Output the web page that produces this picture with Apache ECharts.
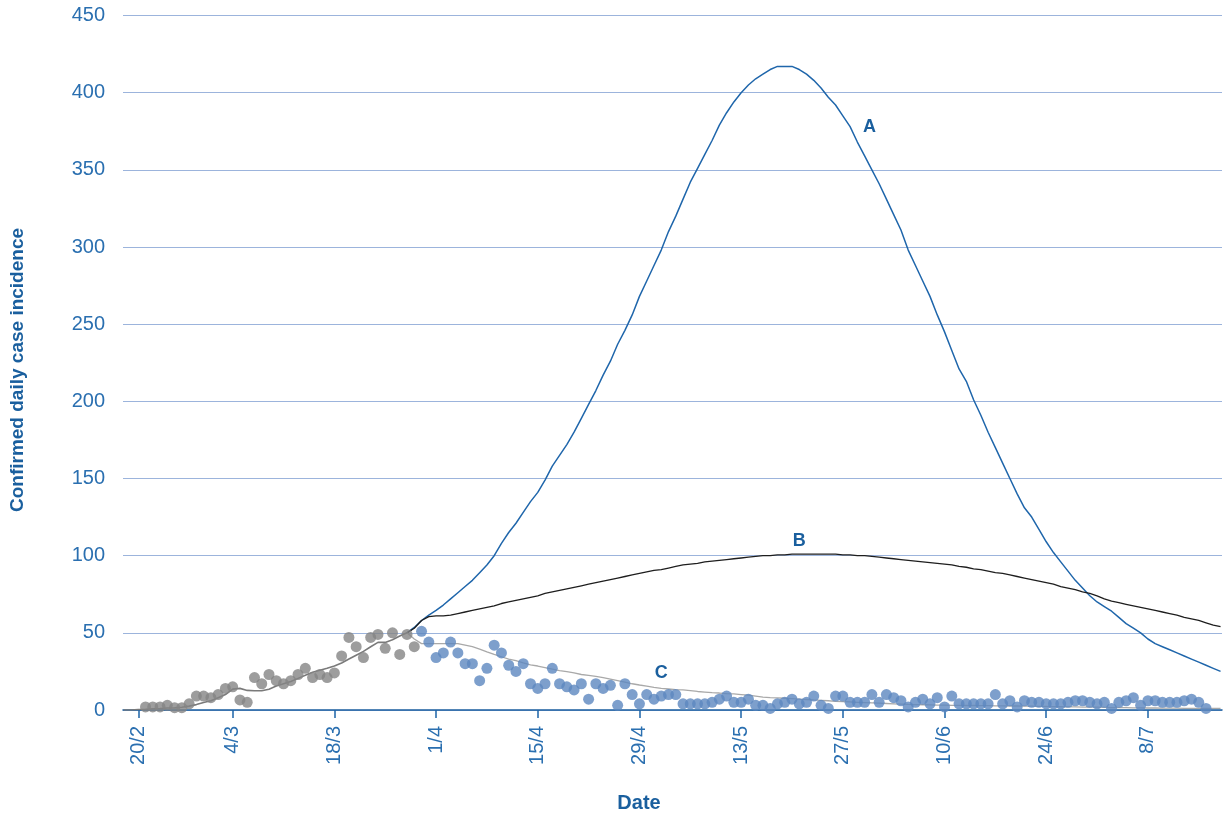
<!DOCTYPE html>
<html>
<head>
<meta charset="utf-8">
<title>Confirmed daily case incidence</title>
<script src="https://cdn.jsdelivr.net/npm/echarts@6/dist/echarts.min.js"></script>
<style>
  html, body { margin: 0; padding: 0; background: #ffffff; }
  #chart { width: 1226px; height: 818px; }
</style>
</head>
<body>
<div id="chart"></div>
<script>
// Days are counted from 20/2 (day 0).
const tickDays   = [0, 13, 27, 41, 55, 69, 83, 97, 111, 125, 139];
const tickLabels = ['20/2', '4/3', '18/3', '1/4', '15/4', '29/4', '13/5', '27/5', '10/6', '24/6', '8/7'];

// Fitted curve up to the branching point
const historyStart = -2;
const history = [0, 0, 0.3, 0.5, 0.8, 1, 1.3, 1.4, 1.8, 2.5, 3.5, 4.8, 6, 8, 10, 13.5, 14, 12.7, 12.5, 12.5,
  13.5, 15.5, 17, 18.5, 20.5, 22.5, 24.5, 25.8, 27, 28.5, 30.5, 33, 35.5, 38, 41, 43.8, 43.8, 45.5, 48, 50];

// Scenario projections, starting at the branching day
const scenarioStart = 37;
const scenarioA = [50, 53.5, 58, 61.5, 64.5, 68, 72, 76, 80, 84, 89, 94, 100, 108, 115, 121, 128, 135, 141, 149,
  158, 165, 172, 180, 189, 198, 207, 217, 226, 237, 246, 256, 268, 278, 288, 298, 310, 320, 331, 342,
  351, 360, 369, 379, 387, 394, 400, 405, 409, 412, 415, 417, 417, 417, 415, 412, 408, 403, 397, 392,
  385, 378, 368, 359, 350, 341, 331, 321, 311, 298, 288, 278, 268, 256, 245, 233, 221, 213, 201, 191,
  180, 170, 160, 150, 140, 131, 125, 117, 109, 102, 96, 90, 84, 79, 74, 70, 67, 64, 60, 56,
  53, 50, 46, 43, 41, 39, 37, 35, 33, 31, 29, 27, 25];
const scenarioB = [50, 53, 58, 60.5, 61, 61, 61.5, 62.5, 63.5, 64.5, 65.5, 66.5, 67.5, 69, 70, 71, 72, 73, 74, 75.5,
  76.5, 77.5, 78.5, 79.5, 80.5, 81.5, 82.5, 83.5, 84.5, 85.5, 86.5, 87.5, 88.5, 89.5, 90.5, 91, 92, 93, 94, 94.5,
  95, 96, 96.5, 97, 97.5, 98, 98.5, 99, 99.5, 100, 100, 100.5, 100.5, 101, 101, 101, 101, 101, 101, 101,
  100.5, 100.5, 100, 100, 99.5, 99, 98.5, 98, 97.5, 97, 96.5, 96, 95.5, 95, 94.5, 94, 93, 92.5, 91.5, 91,
  90, 89, 88.5, 87.5, 86.5, 85.5, 84.5, 83.5, 82.5, 81.5, 80, 79, 78, 76.5, 75.5, 74, 72, 70.5, 69.5, 68.5,
  67.5, 66.5, 65.5, 64.5, 63.5, 62.5, 61.5, 60, 59, 58, 56.5, 55, 54];
const scenarioC = [50, 46, 43, 43, 43, 43, 43, 43, 42, 41, 39.5, 37.7, 36, 34.5, 33, 32, 30.5, 29.3, 28.5, 27.5,
  26.5, 25.5, 24.8, 24, 23, 22.5, 21.8, 21, 20, 19, 18, 17, 16.2, 15.5, 14.7, 14, 13.6, 13.2, 13, 12.6,
  12, 11.6, 11.2, 11, 10.6, 10.4, 10, 9.6, 9, 8.4, 8, 7.8, 7.6, 7.4, 7, 6.8, 6.5, 6.3, 6, 5.6,
  5.4, 5.2, 5, 4.8, 4.6, 4.4, 4.2, 4, 3.8, 3.6, 3.5, 3.4, 3.3, 3.2, 3.1, 3, 3, 2.9, 2.9, 2.8,
  2.8, 2.7, 2.7, 2.6, 2.6, 2.5, 2.5, 2.4, 2.3, 2.2, 2.1, 2, 2, 1.9, 1.8, 1.8, 1.7, 1.6, 1.5, 1.5,
  1.4, 1.4, 1.3, 1.3, 1.2, 1.2, 1.2, 1.1, 1.1, 1.1, 1, 1, 1];

// Reported daily cases
const fitStart = 1;
const fitCases = [2, 2, 2, 3, 1.5, 1.5, 4, 9, 9, 8, 10, 14, 15, 6.5, 5, 21, 17, 23, 19, 17,
  19, 23, 27, 21, 23, 21, 24, 35, 47, 41, 34, 47, 49, 40, 50, 36, 49, 41];
const laterStart = 39;
const laterCases = [51, 44, 34, 37, 44, 37, 30, 30, 19, 27, 42, 37, 29, 25, 30, 17, 14, 17, 27, 17,
  15, 13, 17, 7, 17, 14, 16, 3, 17, 10, 4, 10, 7, 9, 10, 10, 4, 4, 4, 4,
  5, 7, 9, 5, 5, 7, 3, 3, 1, 4, 5, 7, 4, 5, 9, 3, 1, 9, 9, 5,
  5, 5, 10, 5, 10, 8, 6, 2, 5, 7, 4, 8, 2, 9, 4, 4, 4, 4, 4, 10,
  4, 6, 2, 6, 5, 5, 4, 4, 4, 5, 6, 6, 5, 4, 5, 1, 5, 6, 8, 3,
  6, 6, 5, 5, 5, 6, 7, 5, 1];

// Day on which each scenario name is written beside its curve
const scenarioNames = ['A', 'B', 'C'];
const nameDays = [98, 91, 72];

const yTicks = [0, 50, 100, 150, 200, 250, 300, 350, 400, 450];

function pairs(start, values) {
  return values.map((v, i) => [start + i, v]);
}

const blue = '#1c64a8';
const textBlue = '#2a6fb0';

const scenarios = [scenarioA, scenarioB, scenarioC];
const scenarioColors = ['#1f66ab', '#1e1e1e', '#a9a9a9'];
const nameLabels = [
  { position: 'right', distance: 13 },
  { position: 'top', distance: 4 },
  { position: 'top', distance: 6 }
];

const chart = echarts.init(document.getElementById('chart'), null, { renderer: 'canvas' });

const series = [
  {
    name: 'history',
    type: 'line',
    data: pairs(historyStart, history),
    showSymbol: false,
    lineStyle: { color: '#7a7a7a', width: 1.6 },
    z: 2,
    silent: true
  }
];

scenarios.forEach((vals, k) => {
  const d = nameDays[k];
  series.push({
    name: scenarioNames[k],
    type: 'line',
    data: pairs(scenarioStart, vals),
    showSymbol: false,
    lineStyle: { color: scenarioColors[k], width: k === 0 ? 1.5 : 1.3 },
    z: 2,
    silent: true,
    markPoint: {
      symbol: 'circle',
      symbolSize: 0,
      silent: true,
      label: {
        show: true,
        formatter: scenarioNames[k],
        color: '#1a5f9e',
        fontFamily: 'Liberation Sans, Arial, sans-serif',
        fontWeight: 'bold',
        fontSize: 18,
        position: nameLabels[k].position,
        distance: nameLabels[k].distance
      },
      data: [{ coord: [d, vals[d - scenarioStart]] }]
    }
  });
});

series.push({
  name: 'fit period',
  type: 'scatter',
  data: pairs(fitStart, fitCases),
  symbol: 'circle',
  symbolSize: 11,
  itemStyle: { color: '#858585' },
  z: 4,
  silent: true
});
series.push({
  name: 'after',
  type: 'scatter',
  data: pairs(laterStart, laterCases),
  symbol: 'circle',
  symbolSize: 11,
  itemStyle: { color: '#5d87bf' },
  z: 4,
  silent: true
});

const option = {
  animation: false,
  backgroundColor: '#ffffff',
  grid: { left: 123, right: 4, top: 15.5, bottom: 108, containLabel: false },
  xAxis: {
    type: 'value',
    min: -2.1,
    max: 149.2,
    splitLine: { show: false },
    axisLine: { show: true, onZero: false, lineStyle: { color: '#1a5e9f', width: 1.5 } },
    axisTick: {
      show: true,
      customValues: tickDays,
      length: 8,
      lineStyle: { color: blue, width: 1.5 }
    },
    axisLabel: {
      customValues: tickDays,
      rotate: 90,
      margin: 16,
      color: textBlue,
      fontFamily: 'Liberation Sans, Arial, sans-serif',
      fontSize: 20,
      formatter: v => {
        const i = tickDays.indexOf(Math.round(v));
        return i >= 0 ? tickLabels[i] : '';
      }
    }
  },
  yAxis: {
    type: 'value',
    min: yTicks[0],
    max: yTicks[yTicks.length - 1],
    interval: yTicks[1] - yTicks[0],
    axisLine: { show: false },
    axisTick: { show: false },
    splitLine: { show: true, lineStyle: { color: '#9cb4dc', width: 1.2 } },
    axisLabel: {
      margin: 18,
      color: textBlue,
      fontFamily: 'Liberation Sans, Arial, sans-serif',
      fontSize: 20
    }
  },
  graphic: [
    {
      type: 'text',
      x: 18,
      y: 370,
      rotation: Math.PI / 2,
      style: {
        text: 'Confirmed daily case incidence',
        fill: '#1a5f9e',
        font: 'bold 19px "Liberation Sans", Arial, sans-serif',
        align: 'center',
        verticalAlign: 'middle'
      }
    },
    {
      type: 'text',
      x: 639,
      y: 803,
      style: {
        text: 'Date',
        fill: '#1a5f9e',
        font: 'bold 20px "Liberation Sans", Arial, sans-serif',
        align: 'center',
        verticalAlign: 'middle'
      }
    }
  ],
  series: series
};

chart.setOption(option);
</script>
</body>
</html>
